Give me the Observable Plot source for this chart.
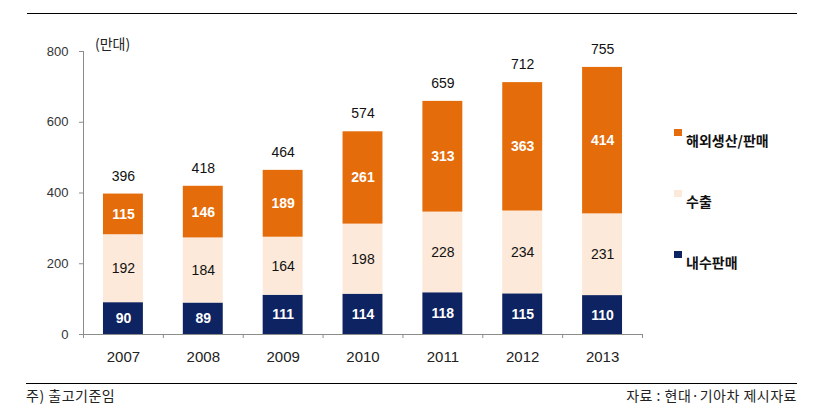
<!DOCTYPE html>
<html>
<head>
<meta charset="utf-8">
<script src="https://cdn.jsdelivr.net/npm/d3@7"></script>
<script src="https://cdn.jsdelivr.net/npm/@observablehq/plot@0.6"></script>
<style>
  html, body { margin: 0; padding: 0; background: #fff; }
  #wrap { position: relative; width: 814px; height: 410px; overflow: hidden; font-family: "Liberation Sans", Arial, sans-serif; }
  #chart { position: absolute; left: 0; top: 0; }
  .hline { position: absolute; height: 0; border-top: 1.5px solid #000; }
  .kr { position: absolute; font-family: "Noto Sans CJK KR", "Noto Sans", sans-serif; color: #222; white-space: nowrap; line-height: 1; }
  .sw { position: absolute; width: 8px; height: 7px; }
</style>
</head>
<body>
<div id="wrap">
  <div id="chart"></div>
</div>
<script>
// ---- data ----
const years = ["2007", "2008", "2009", "2010", "2011", "2012", "2013"];
const seriesNames = ["내수판매", "수출", "해외생산/판매"];
const seriesColors = ["#0E2361", "#FDE9D9", "#E46C0A"];
const domestic = [90, 89, 111, 114, 118, 115, 110];
const exportsV = [192, 184, 164, 198, 228, 234, 231];
const overseas = [115, 146, 189, 261, 313, 363, 414];
const totals = [396, 418, 464, 574, 659, 712, 755];
const yTicks = [0, 200, 400, 600, 800];
const unitLabel = "(만대)";
const footNote = "주) 출고기준임";
const sourceNote = "자료 : 현대·기아차 제시자료";

// ---- build stacked rows ----
const seriesValues = [domestic, exportsV, overseas];
const rows = [];
years.forEach((yr, i) => {
  let base = 0;
  seriesValues.forEach((arr, k) => {
    rows.push({year: yr, i, series: seriesNames[k], k, value: arr[i], y1: base, y2: base + arr[i]});
    base += arr[i];
  });
});
const totalRows = years.map((yr, i) => ({year: yr, i, total: totals[i]}));
const boundaries = d3.range(years.length + 1);
const centers = years.map((_, i) => i + 0.5);

const gray = "#8c8c8c";
const plot = Plot.plot({
  width: 814,
  height: 410,
  marginLeft: 83,
  marginRight: 172,
  marginTop: 51,
  marginBottom: 76,
  style: {fontFamily: "'Liberation Sans', Arial, sans-serif", fontSize: "13px", color: "#222", background: "transparent"},
  x: {type: "linear", domain: [0, years.length], label: null},
  y: {domain: [0, 800], label: null},
  color: {domain: seriesNames, range: seriesColors},
  marks: [
    Plot.rect(rows, {x1: d => d.i + 0.25, x2: d => d.i + 0.75, y1: "y1", y2: "y2", fill: "series"}),
    Plot.ruleX([0], {stroke: gray, strokeWidth: 1}),
    Plot.ruleY([0], {stroke: gray, strokeWidth: 1}),
    Plot.axisY(yTicks, {tickSize: 4, tickPadding: 11, stroke: gray, fill: "#333", fontSize: 13, label: null}),
    Plot.axisX(boundaries, {tickSize: 4, tickFormat: () => "", stroke: gray, label: null}),
    Plot.axisX(centers, {tickSize: 0, tickPadding: 17, tickFormat: d => years[Math.floor(d)], fill: "#222", fontSize: 15, label: null}),
    Plot.text(rows.filter(d => d.k !== 1), {x: d => d.i + 0.5, y: d => (d.y1 + d.y2) / 2, text: d => String(d.value), fill: "white", fontWeight: "bold", fontSize: 14}),
    Plot.text(rows.filter(d => d.k === 1), {x: d => d.i + 0.5, y: d => (d.y1 + d.y2) / 2, text: d => String(d.value), fill: "#111", fontSize: 14}),
    Plot.text(totalRows, {x: d => d.i + 0.5, y: "total", text: d => String(d.total), dy: -18, fill: "#111", fontSize: 14})
  ]
});
document.getElementById("chart").appendChild(plot);

// ---- overlay: lines, unit label, legend, notes ----
const wrap = document.getElementById("wrap");
function add(html) { wrap.insertAdjacentHTML("beforeend", html); }
add(`<div class="hline" style="left:27px; width:770px; top:13px;"></div>`);
add(`<div class="hline" style="left:26px; width:771px; top:383px;"></div>`);
add(`<div class="kr" style="left:95px; top:36px; font-size:14px;">${unitLabel}</div>`);
add(`<div class="kr" style="left:26px; top:388px; font-size:14px; letter-spacing:0.5px;">${footNote}</div>`);
add(`<div class="kr" style="right:17px; top:388px; font-size:14px; letter-spacing:0.5px;">${sourceNote}</div>`);
// legend (top to bottom: overseas, export, domestic)
const legendOrder = [2, 1, 0];
const legendTops = [129, 190, 251];
legendOrder.forEach((k, j) => {
  const t = legendTops[j];
  add(`<div class="sw" style="left:674px; top:${t}px; background:${seriesColors[k]};"></div>`);
  add(`<div class="kr" style="left:686px; top:${t + 4}px; font-size:14px; font-weight:bold; color:#111;">${seriesNames[k]}</div>`);
});
</script>
</body>
</html>
